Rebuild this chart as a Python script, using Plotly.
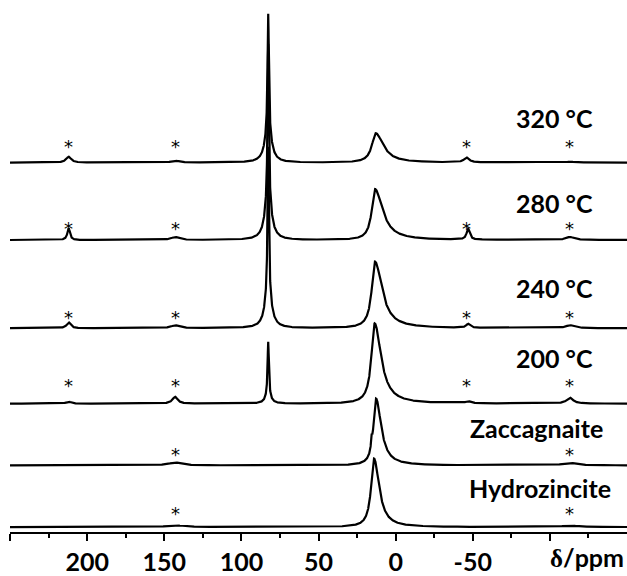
import numpy as np
import plotly.graph_objects as go

# ---- data ----
names = ["320 °C", "280 °C", "240 °C", "200 °C", "Zaccagnaite", "Hydrozincite"]
offsets = [377, 298, 208, 131, 68, 5]           # baseline level of each stacked spectrum
# peaks per spectrum: (position ppm, height, hwhm on high-ppm side, hwhm on low-ppm side)
peaks = {
    "320 °C": [(82.6, 120, 0.5, 0.5), (82.6, 32, 2.5, 2.5), (12.9, 30, 3.0, 6.0),
               (212, 6, 2.0, 2.0), (143, 2, 3.0, 3.0), (-46, 5, 2.0, 2.0), (-113, 1, 3.0, 3.0)],
    "280 °C": [(82.6, 160, 0.5, 0.5), (82.6, 40, 2.5, 2.5), (13.4, 52, 2.5, 6.0),
               (212, 12, 1.0, 1.0), (143, 3, 3.0, 3.0), (-47, 11, 1.2, 1.2), (-113, 3, 3.0, 3.0)],
    "240 °C": [(82.6, 150, 0.5, 0.5), (82.6, 35, 2.5, 2.5), (13.4, 68, 2.5, 5.5),
               (212, 6, 1.5, 1.5), (143, 3, 3.0, 3.0), (-47, 4, 1.5, 1.5), (-113, 3, 3.0, 3.0)],
    "200 °C": [(82.6, 55, 0.5, 0.5), (82.6, 8, 2.0, 2.0), (13.6, 82, 2.5, 5.0),
               (212, 2, 2.0, 2.0), (143, 7, 2.0, 2.0), (-47, 2, 2.0, 2.0), (-113, 6, 2.5, 2.5)],
    "Zaccagnaite": [(12.7, 68, 2.0, 4.0), (15.6, 10, 0.4, 0.4),
                    (143, 3, 5.0, 5.0), (-113, 2.5, 5.0, 5.0)],
    "Hydrozincite": [(14.0, 70, 2.3, 4.0), (143, 2, 6.0, 6.0), (-113, 1.5, 6.0, 6.0)],
}
star_ppm = {
    "320 °C": [212, 143, -46, -113],
    "280 °C": [212, 143, -46, -113],
    "240 °C": [212, 143, -46, -113],
    "200 °C": [212, 143, -46, -113],
    "Zaccagnaite": [143, -113],
    "Hydrozincite": [143, -113],
}
star_dy = [23, 18, 17, 25, 17, 20]
label_x = [-129, -129, -129, -129, -136, -141]   # right edge of label, ppm
label_dy = [43, 35, 38, 44, 35, 37]

tick_vals = [250, 200, 150, 100, 50, 0, -50, -100]
tick_text = ["", "200", "150", "100", "50", "0", "-50", ""]
minor_vals = [225, 175, 125, 75, 25, -25, -75, -125]

# ---- build spectra from peak list ----
ppm = np.arange(250, -150.001, -0.05)


def spectrum(plist):
    y = np.zeros_like(ppm)
    for c, h, wl, wr in plist:
        w = np.where(ppm >= c, wl, wr)
        y += h / (1 + ((ppm - c) / w) ** 2)
    return y


FONT = "Lato"
fig = go.Figure()
for i, n in enumerate(names):
    fig.add_trace(go.Scatter(x=ppm, y=offsets[i] + spectrum(peaks[n]), mode="lines",
                             line=dict(color="black", width=2.2), showlegend=False,
                             hoverinfo="skip"))
    for sp in star_ppm[n]:
        fig.add_annotation(x=sp, y=offsets[i] + star_dy[i], yshift=-6, text="*", showarrow=False,
                           font=dict(family="DejaVu Sans", size=18, color="black"),
                           xanchor="center", yanchor="middle")
    fig.add_annotation(x=label_x[i], y=offsets[i] + label_dy[i], yshift=3, text=n, showarrow=False,
                       font=dict(family=FONT, size=25, color="black", weight="bold"),
                       xanchor="right", yanchor="middle")

fig.add_annotation(x=-100, y=0, yref="paper", yanchor="top", xanchor="left", xshift=-2, yshift=-8,
                   text="<span style='font-family:Liberation Serif'>δ</span>/ppm",
                   showarrow=False, font=dict(family=FONT, size=25, color="black", weight="bold"))

fig.update_layout(
    width=627, height=576,
    margin=dict(l=10, r=0, t=0, b=33),
    plot_bgcolor="white", paper_bgcolor="white",
    xaxis=dict(range=[250, -150], showgrid=False, zeroline=False,
               showline=True, linecolor="black", linewidth=2,
               tickmode="array", tickvals=tick_vals, ticktext=tick_text,
               ticks="outside", ticklen=7, tickwidth=2, tickcolor="black",
               tickfont=dict(family=FONT, size=25, color="black", weight="bold"),
               minor=dict(tickmode="array", tickvals=minor_vals, ticks="outside",
                          ticklen=4, tickwidth=1.5, tickcolor="black")),
    yaxis=dict(range=[0, 543], visible=False, showgrid=False, zeroline=False),
)

fig.write_html("out.html")
